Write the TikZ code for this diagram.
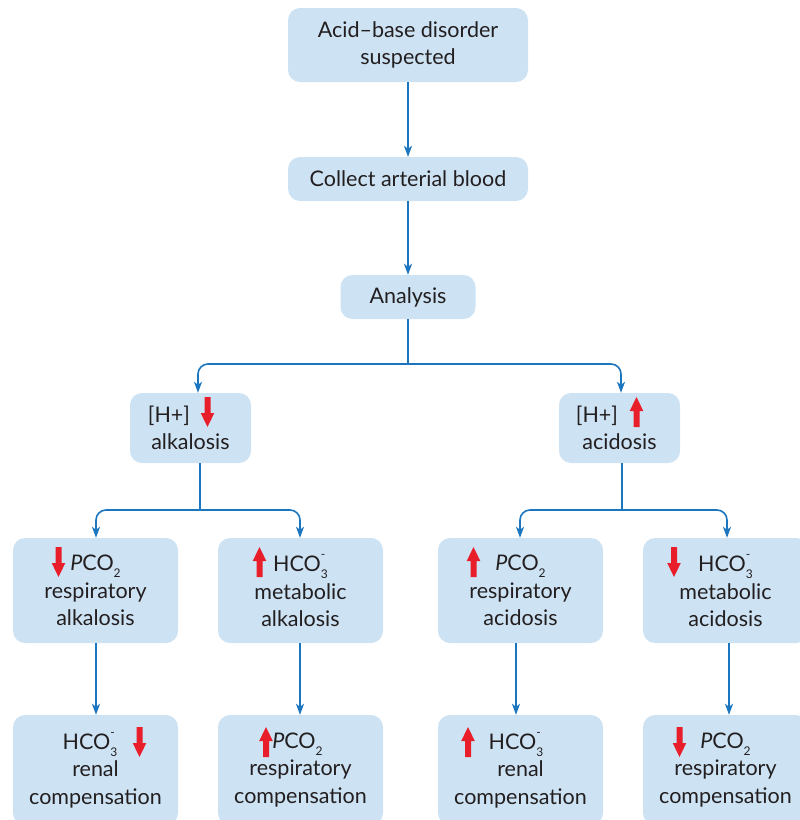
\documentclass[tikz,border=0pt]{standalone}
\usepackage{fontspec}
\setmainfont{Lato}
\usetikzlibrary{arrows.meta}
\definecolor{boxc}{HTML}{CDE3F4}
\definecolor{linec}{HTML}{1C76BF}
\definecolor{redc}{HTML}{E81F2A}
\definecolor{textc}{HTML}{231F20}
\newcommand\hco{HCO\makebox[0pt][l]{\raisebox{0.62em}{\fontsize{12}{12}\selectfont -}}\raisebox{-0.32em}{\fontsize{12}{12}\selectfont 3}}
\newcommand\pco{\textit{P}CO\raisebox{-0.32em}{\fontsize{12}{12}\selectfont 2}}
\tikzset{
 box/.style={fill=boxc, rounded corners=12pt, align=center, text=textc,
   font=\fontsize{21.5}{27.5}\selectfont, inner sep=0pt},
 wide/.style={box, minimum width=240pt, minimum height=74pt},
 small/.style={box, minimum width=121pt, minimum height=70pt},
 leaf/.style={box, minimum width=165pt, minimum height=105pt},
 trunk/.style={draw=linec, line width=1.6pt},
 conn/.style={trunk, -{Stealth[length=11pt,width=8pt,inset=3pt]}, rounded corners=10pt},
 dnarrow/.pic={\fill[redc] (-3,-15)--(3,-15)--(3,1)--(6.8,1)--(0,15)--(-6.8,1)--(-3,1)--cycle;},
 uparrow/.pic={\fill[redc] (-3,15)--(3,15)--(3,-1)--(6.8,-1)--(0,-15)--(-6.8,-1)--(-3,-1)--cycle;},
}
\begin{document}
\begin{tikzpicture}[x=1pt,y=-1pt]
\useasboundingbox (0,0) rectangle (800,820);
\begin{scope}
\clip (0,0) rectangle (800,820);
\node[wide] (top) at (408,45) {Acid–base disorder\\suspected};
\node[box, minimum width=240pt, minimum height=44pt] (collect) at (408,179) {Collect arterial blood};
\node[box, minimum width=135pt, minimum height=44pt] (analysis) at (408,297) {Analysis};
\node[small] (alk) at (190.5,428) {[H+]\hspace*{43pt}\\alkalosis};
\node[small] (acid) at (619.5,428) {[H+]\hspace*{45pt}\\acidosis};
\node[leaf] (ra) at (95.5,590.5) {\pco\\respiratory\\alkalosis};
\node[leaf] (ma) at (300.5,590.5) {\hco\\metabolic\\alkalosis};
\node[leaf] (rac) at (520.5,590.5) {\pco\\respiratory\\acidosis};
\node[leaf] (mac) at (725.5,590.5) {\hco\\metabolic\\acidosis};
\node[leaf, minimum height=110pt] (rc1) at (95.5,770) {\hco\hspace*{11pt}\\renal\\compensation};
\node[leaf, minimum height=110pt] (pc1) at (300.5,770) {\pco\hspace*{6pt}\\respiratory\\compensation};
\node[leaf, minimum height=110pt] (rc2) at (520.5,770) {\hco\hspace*{9pt}\\renal\\compensation};
\node[leaf, minimum height=110pt] (pc2) at (725.5,770) {\pco\\respiratory\\compensation};
% red arrows
\pic at (207.5,412) {dnarrow};
\pic at (636.5,412) {uparrow};
\pic at (58.5,562) {dnarrow};
\pic at (259.5,562) {uparrow};
\pic at (473.5,562) {uparrow};
\pic at (674,562) {dnarrow};
\pic at (139.5,742) {dnarrow};
\pic at (266,742) {uparrow};
\pic at (468,742) {uparrow};
\pic at (679.5,742) {dnarrow};
% connectors
\coordinate (s1) at (408,364);
\coordinate (s2) at (200,510);
\coordinate (s3) at (622,510);
\draw[conn] (top) -- (collect);
\draw[conn] (collect) -- (analysis);
\draw[trunk] (analysis) -- (s1);
\draw[conn] (s1) -| ([xshift=7.5pt]alk.north);
\draw[conn] (s1) -| ([xshift=1.5pt]acid.north);
\draw[trunk] (alk.south -| s2) -- (s2);
\draw[conn] (s2) -| ([xshift=0.5pt]ra.north);
\draw[conn] (s2) -| ([xshift=-0.5pt]ma.north);
\draw[trunk] (acid.south -| s3) -- (s3);
\draw[conn] (s3) -| ([xshift=-0.5pt]rac.north);
\draw[conn] (s3) -| ([xshift=1.5pt]mac.north);
\draw[conn] ([xshift=0.5pt]ra.south) -- ([xshift=0.5pt]rc1.north);
\draw[conn] ([xshift=-0.5pt]ma.south) -- ([xshift=-0.5pt]pc1.north);
\draw[conn] ([xshift=-4.5pt]rac.south) -- ([xshift=-4.5pt]rc2.north);
\draw[conn] ([xshift=3.5pt]mac.south) -- ([xshift=3.5pt]pc2.north);
\end{scope}
\end{tikzpicture}
\end{document}
